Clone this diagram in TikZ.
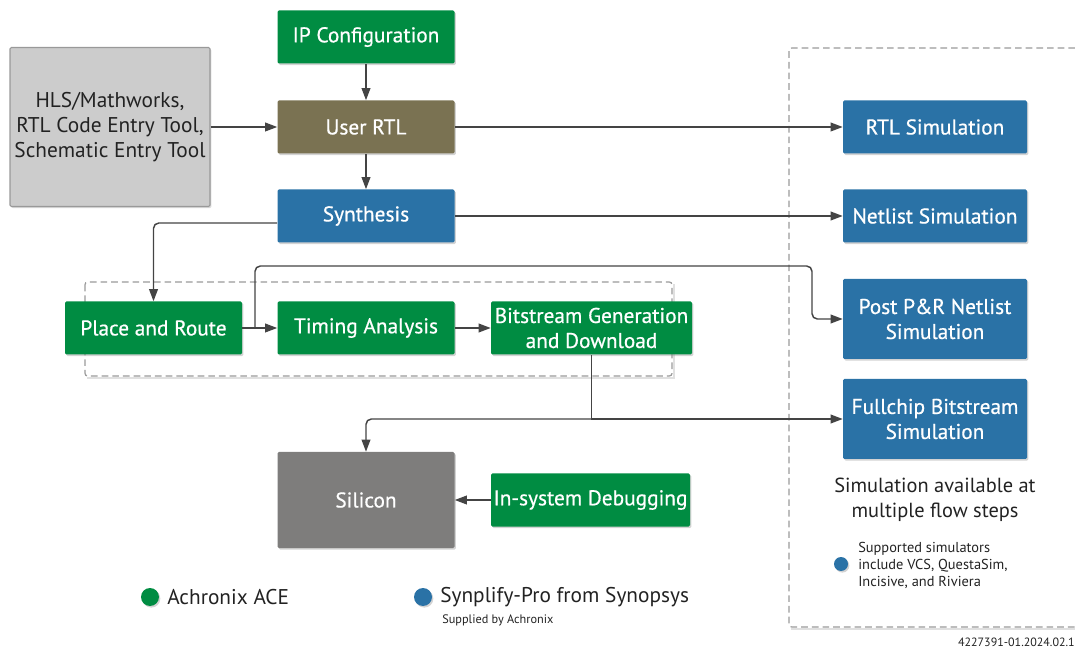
\documentclass[tikz,border=0pt]{standalone}
\usepackage{fontspec}
\setmainfont{PT Sans}
\newfontfamily\boxfont[FakeBold=0.6]{PT Sans}
\usetikzlibrary{arrows.meta,shadows,positioning}
\definecolor{agreen}{HTML}{008C42}
\definecolor{ablue}{HTML}{2A72A6}
\definecolor{aolive}{HTML}{7A7252}
\definecolor{asil}{HTML}{7E7D7C}
\definecolor{ahls}{HTML}{CCCCCC}
\definecolor{aline}{HTML}{444444}
\definecolor{adash}{HTML}{9A9A9A}
\definecolor{atext}{HTML}{222222}
\begin{document}
\begin{tikzpicture}[x=0.75pt,y=-0.75pt,
  box/.style={rectangle, rounded corners=1pt, minimum width=132.75pt, minimum height=39.75pt,
    inner sep=0pt, align=center, text=white, font=\boxfont\fontsize{16}{18.75}\selectfont,
    drop shadow={opacity=0.35, shadow xshift=1pt, shadow yshift=-1.2pt}},
  gbox/.style={box, fill=agreen},
  bbox/.style={box, fill=ablue},
  simbox/.style={bbox, minimum width=138pt},
  arr/.style={draw=aline, line width=1.1pt, -{Triangle[length=9pt,width=6.5pt]}},
  ln/.style={draw=aline, line width=1.1pt},
  dashbox/.style={draw=adash, line width=0.9pt, dash pattern=on 5pt off 3pt, rounded corners=2pt},
  dot/.style={circle, inner sep=0pt, minimum size=13.5pt, drop shadow={opacity=0.35, shadow xshift=1pt, shadow yshift=-1.2pt}},
  lbl/.style={text=atext, align=center, inner sep=0pt}
]
\useasboundingbox (0,0) rectangle (1075,648);

% dashed groups
\draw[draw=black!12, line width=1.2pt] (87,378) -- (674,378) -- (674,284);
\draw[dashbox] (85,282) rectangle (672,376);
\draw[draw=black!12, line width=1.2pt] (791,629) -- (1075,629);
\draw[dashbox] (1075,48) -- (789,48) -- (789,627) -- (1075,627);

% nodes
\node[gbox] (ip) at (366,37) {IP Configuration};
\node[box, fill=aolive] (rtl) at (366,127) {User RTL};
\node[bbox] (syn) at (366,216) {Synthesis};
\node[rectangle, rounded corners=1pt, fill=ahls, draw=gray!80, line width=0.8pt,
  minimum width=150pt, minimum height=119.25pt, align=center, text=atext,
  font=\fontsize{16}{18.75}\selectfont,
  drop shadow={opacity=0.3, shadow xshift=1pt, shadow yshift=-1.2pt}] (hls) at (110,127)
  {HLS/Mathworks,\\RTL Code Entry Tool,\\Schematic Entry Tool};
\node[gbox] (pr) at (153.5,328) {Place and Route};
\node[gbox] (ta) at (366,328) {Timing Analysis};
\node[gbox, minimum width=150.75pt] (bs) at (591.5,328) {Bitstream Generation\\and Download};
\node[box, fill=asil, minimum height=72pt] (si) at (366,500) {Silicon};
\node[gbox, minimum width=149.25pt] (dbg) at (590.5,500) {In-system Debugging};
\node[simbox] (rtlsim) at (935,127) {RTL Simulation};
\node[simbox] (netsim) at (935,216) {Netlist Simulation};
\node[simbox, minimum height=60pt] (ppr) at (935,319) {Post P\&R Netlist\\Simulation};
\node[simbox, minimum height=60pt] (fc) at (935,419) {Fullchip Bitstream\\Simulation};

\node[lbl, font=\fontsize{15.3}{18.75}\selectfont] (avail) at (935,500) {Simulation available at\\multiple flow steps};
\node[dot, fill=ablue, minimum size=10.5pt] (sdot) at (841,564) {};
\node[lbl, anchor=west, align=left, font=\fontsize{10.8}{12.75}\selectfont] (supp) at (858,565) {Supported simulators\\include VCS, QuestaSim,\\Incisive, and Riviera};

% legend
\node[dot, fill=agreen] (gdot) at (150,597) {};
\node[lbl, anchor=west, font=\fontsize{16}{18}\selectfont] (gl) at (167,597) {Achronix ACE};
\node[dot, fill=ablue] (bdot) at (423,597) {};
\node[lbl, anchor=west, font=\fontsize{16}{18}\selectfont] (bl) at (440,597) {Synplify-Pro from Synopsys};
\node[lbl, anchor=west, font=\fontsize{9.2}{11}\selectfont] (sup) at (442,620) {Supplied by Achronix};
\node[lbl, anchor=east, font=\fontsize{9}{11}\selectfont] (code) at (1075,642) {4227391-01.2024.02.1};

% connectors
\draw[arr] (ip) -- (rtl);
\draw[arr] (hls) -- (rtl);
\draw[arr] (rtl) -- (rtlsim);
\draw[arr] (rtl) -- (syn);
\draw[arr] (syn) -- (netsim);
\draw[arr, rounded corners=4pt] ([yshift=-5.25pt]syn.west) -| (pr.north);
\draw[arr] (pr) -- (ta);
\coordinate (b1) at (255,328);
\coordinate (b2) at (812,266);
\draw[arr, rounded corners=4pt] (b1) |- (b2) |- (ppr.west);
\draw[arr] (ta) -- (bs);
\draw[arr] (bs.south) |- (fc.west);
\draw[arr, rounded corners=4pt] (bs.south |- fc.west) -| (si.north);
\draw[arr] (dbg) -- (si);
\end{tikzpicture}
\end{document}
